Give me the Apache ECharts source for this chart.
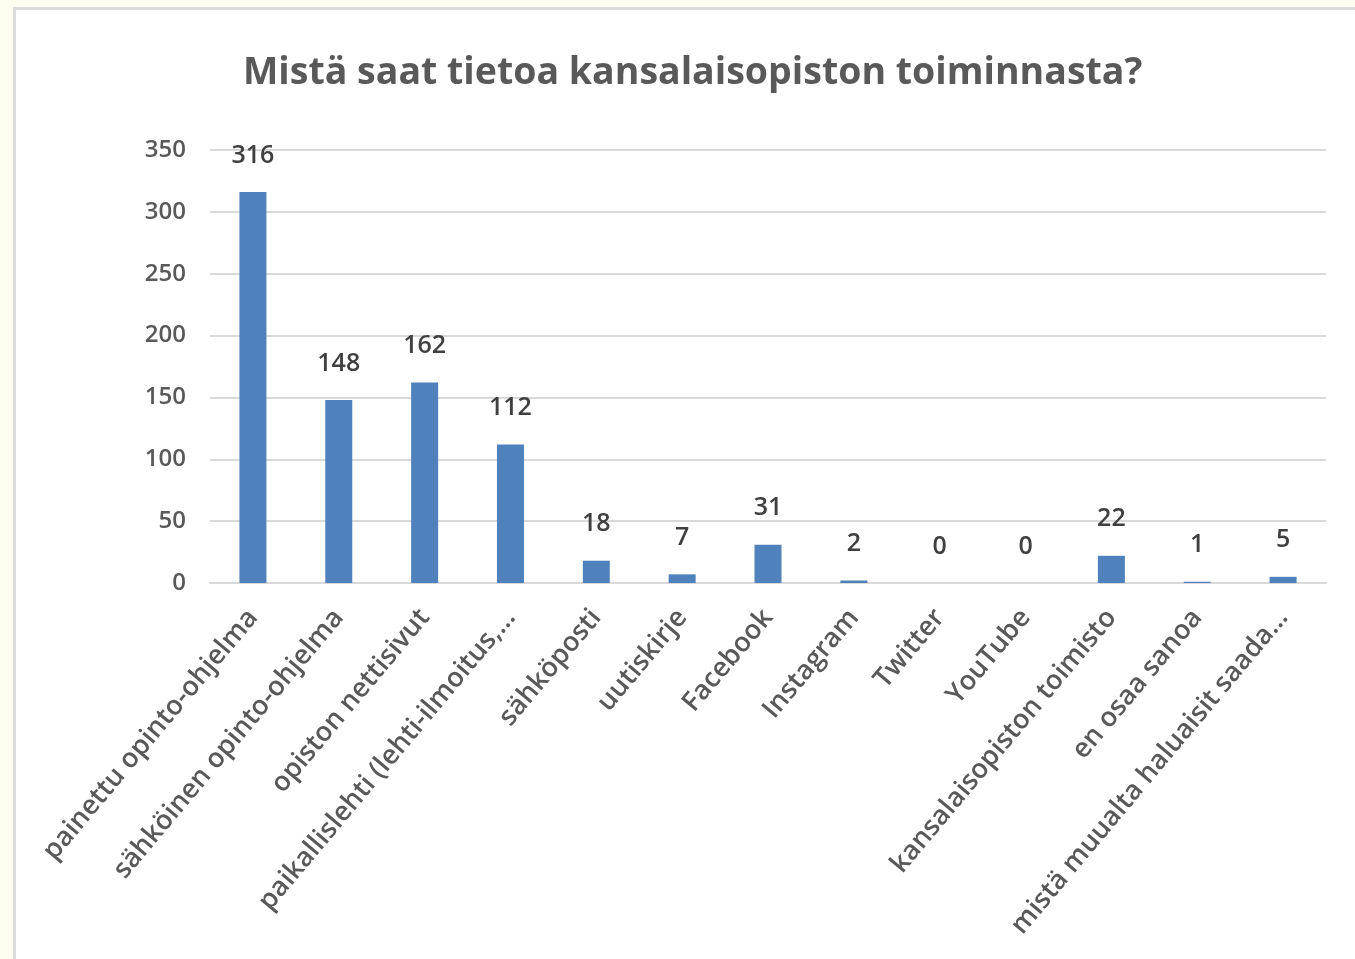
<!DOCTYPE html>
<html>
<head>
<meta charset="utf-8">
<script src="https://cdn.jsdelivr.net/npm/echarts@6/dist/echarts.min.js"></script>
<style>
  html, body { margin: 0; padding: 0; background: #fffdf0; }
  #frame {
    position: absolute; left: 13px; top: 7px; width: 1360px; height: 960px;
    background: #ffffff; border-left: 3px solid #dcdcdc; border-top: 3px solid #dcdcdc;
  }
  #chart { position: absolute; left: 0; top: 0; width: 1355px; height: 959px; }
</style>
</head>
<body>
<div id="frame"></div>
<div id="chart"></div>
<script>
// kyselyn vastaukset
const categories = [
  'painettu opinto-ohjelma',
  'sähköinen opinto-ohjelma',
  'opiston nettisivut',
  'paikallislehti (lehti-ilmoitus,…',
  'sähköposti',
  'uutiskirje',
  'Facebook',
  'Instagram',
  'Twitter',
  'YouTube',
  'kansalaisopiston toimisto',
  'en osaa sanoa',
  'mistä muualta haluaisit saada…'
];
const counts = [316, 148, 162, 112, 18, 7, 31, 2, 0, 0, 22, 1, 5];
const yTicks = [0, 50, 100, 150, 200, 250, 300, 350];

const FONT = '"Open Sans", "Noto Sans", sans-serif';

const chart = echarts.init(document.getElementById('chart'), null, { renderer: 'canvas' });

chart.setOption({
  backgroundColor: 'transparent',
  animation: false,
  title: {
    text: 'Mistä saat tietoa kansalaisopiston toiminnasta?',
    left: 238,
    top: 49,
    textStyle: { fontFamily: FONT, fontSize: 37.5, fontWeight: 'bold', color: '#595959' }
  },
  grid: { left: 210, right: 29, top: 150, bottom: 376, containLabel: false },
  xAxis: {
    type: 'category',
    data: categories,
    axisTick: { show: false },
    axisLine: { lineStyle: { color: '#d9d9d9', width: 2 } },
    axisLabel: {
      rotate: 50,
      interval: 0,
      margin: 30,
      fontFamily: FONT,
      fontSize: 27,
      fontWeight: 600,
      color: '#595959'
    }
  },
  yAxis: {
    type: 'value',
    min: yTicks[0],
    max: yTicks[yTicks.length - 1],
    interval: 50,
    axisLine: { show: false },
    axisTick: { show: false },
    splitLine: { lineStyle: { color: '#d9d9d9', width: 2 } },
    axisLabel: { margin: 24, fontFamily: FONT, fontSize: 24, fontWeight: 600, color: '#595959' }
  },
  series: [{
    type: 'bar',
    data: counts,
    barWidth: 27,
    itemStyle: { color: '#4f81bd' },
    label: {
      show: true,
      position: 'top',
      distance: 24,
      fontFamily: FONT,
      fontSize: 25,
      fontWeight: 600,
      color: '#404040'
    }
  }]
});
</script>
</body>
</html>
